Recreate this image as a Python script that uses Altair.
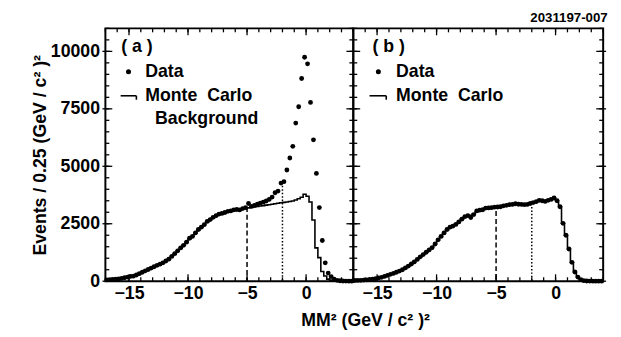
import altair as alt
import pandas as pd

# bin centres of MM^2 (0.25 GeV^2/c^4 bins)
bins = [
    -16.875, -16.625, -16.375, -16.125, -15.875, -15.625, -15.375, -15.125,
    -14.875, -14.625, -14.375, -14.125, -13.875, -13.625, -13.375, -13.125,
    -12.875, -12.625, -12.375, -12.125, -11.875, -11.625, -11.375, -11.125,
    -10.875, -10.625, -10.375, -10.125, -9.875, -9.625, -9.375, -9.125,
    -8.875, -8.625, -8.375, -8.125, -7.875, -7.625, -7.375, -7.125,
    -6.875, -6.625, -6.375, -6.125, -5.875, -5.625, -5.375, -5.125,
    -4.875, -4.625, -4.375, -4.125, -3.875, -3.625, -3.375, -3.125,
    -2.875, -2.625, -2.375, -2.125, -1.875, -1.625, -1.375, -1.125,
    -0.875, -0.625, -0.375, -0.125, 0.125, 0.375, 0.625, 0.875,
    1.125, 1.375, 1.625, 1.875, 2.125, 2.375, 2.625, 2.875,
    3.125, 3.375, 3.625, 3.875,
]

data_a = [
    60, 70, 80, 90, 100, 120, 150, 180,
    210, 220, 270, 330, 390, 450, 510, 570,
    630, 690, 740, 800, 880, 960, 1080, 1200,
    1320, 1450, 1560, 1700, 1870, 1950, 2100, 2250,
    2350, 2460, 2600, 2680, 2780, 2850, 2920, 2950,
    2990, 3040, 3060, 3100, 3120, 3100, 3160, 3200,
    3380, 3260, 3300, 3350, 3400, 3440, 3490, 3560,
    3660, 3850, 3920, 4270, 4330, 4840, 5360, 5870,
    6880, 7590, 8820, 9745, 9460, 7780, 6150, 4690,
    3205, 1770, 800, 355, 200, 90, 40, 20,
    10, 5, 0, 0,
]

mc_a = [
    50, 60, 70, 85, 100, 120, 145, 175,
    205, 240, 280, 330, 385, 440, 500, 560,
    620, 680, 745, 810, 890, 980, 1080, 1200,
    1320, 1440, 1570, 1700, 1840, 1960, 2090, 2220,
    2340, 2460, 2570, 2670, 2760, 2840, 2900, 2950,
    2990, 3030, 3060, 3090, 3110, 3130, 3150, 3170,
    3190, 3210, 3230, 3250, 3270, 3290, 3310, 3330,
    3350, 3370, 3390, 3410, 3430, 3450, 3470, 3490,
    3530, 3590, 3650, 3780, 3700, 3450, 2660, 1450,
    1025, 420, 230, 90, 40, 15, 5, 0,
    0, 0, 0, 0,
]

data_b = [
    30, 35, 40, 50, 60, 75, 90, 110,
    140, 170, 210, 250, 300, 340, 390, 440,
    500, 580, 660, 750, 840, 950, 1060, 1160,
    1260, 1360, 1460, 1620, 1800, 1950, 2100, 2250,
    2350, 2400, 2470, 2580, 2700, 2810, 2850, 2770,
    2900, 3060, 3090, 3110, 3180, 3190, 3200, 3220,
    3230, 3240, 3280, 3300, 3330, 3340, 3370, 3350,
    3340, 3330, 3340, 3380, 3420, 3460, 3520, 3500,
    3470, 3520, 3560, 3620, 3500, 3240, 2520, 2000,
    1400, 820, 400, 180, 70, 25, 10, 5,
    0, 0, 0, 0,
]

mc_b = [
    30, 35, 40, 50, 60, 75, 90, 110,
    140, 170, 205, 245, 290, 335, 385, 440,
    500, 575, 655, 745, 840, 945, 1050, 1160,
    1265, 1370, 1480, 1620, 1780, 1930, 2080, 2220,
    2330, 2420, 2500, 2600, 2700, 2790, 2850, 2870,
    2930, 3030, 3080, 3120, 3170, 3190, 3200, 3220,
    3230, 3250, 3270, 3290, 3320, 3330, 3350, 3350,
    3340, 3340, 3350, 3380, 3420, 3460, 3500, 3500,
    3490, 3520, 3560, 3610, 3500, 3240, 2520, 2000,
    1400, 820, 400, 180, 70, 25, 10, 5,
    0, 0, 0, 0,
]

# signal-region cut lines (dashed at -5, dotted at -2) and their heights
cut_dashed_x = [-5]
cut_dotted_x = [-2]
cut_dashed_top_a = [3230]
cut_dotted_top_a = [4300]
cut_dashed_top_b = [3050]
cut_dotted_top_b = [3230]

x_major = [-15, -10, -5, 0]
x_minor = [-17, -16, -15, -14, -13, -12, -11, -10, -9, -8, -7, -6, -5, -4,
           -3, -2, -1, 0, 1, 2, 3, 4]
y_major = [0, 2500, 5000, 7500, 10000]
y_minor = [0, 500, 1000, 1500, 2000, 2500, 3000, 3500, 4000, 4500, 5000,
           5500, 6000, 6500, 7000, 7500, 8000, 8500, 9000, 9500, 10000,
           10500, 11000]

y_title = "Events / 0.25 (GeV / c² )²"
x_title = "MM² (GeV / c² )²"
fig_id = "2031197-007"

FONT = "Liberation Sans"
FS = 18
H = 257
W_A = 252
W_B = 254
MAJ = 7     # px, inward major tick
MIN = 4     # px, inward minor tick
OUT = 3     # px, outward part of major ticks on outer frame
TICK_COLOR = "black"

xs = alt.Scale(domain=[-17, 4], nice=False, zero=False)
ys = alt.Scale(domain=[0, 11000], nice=False, zero=False)


def make_panel(width, data_vals, mc_vals, dash_top, dot_top, xaxis, yaxis,
               legend_layers, out_left, out_right):
    df = pd.DataFrame({"mm2": bins, "data": data_vals, "mc": mc_vals})
    mc_line = alt.Chart(df).mark_line(
        interpolate="step", color="black", strokeWidth=1.6
    ).encode(
        x=alt.X("mm2:Q", scale=xs, axis=xaxis),
        y=alt.Y("mc:Q", scale=ys, axis=yaxis),
    )
    pts = alt.Chart(df).mark_circle(size=24, color="black", opacity=1).encode(
        x=alt.X("mm2:Q", scale=xs, axis=xaxis),
        y=alt.Y("data:Q", scale=ys, axis=yaxis),
    )
    dashed = alt.Chart(pd.DataFrame({"x": cut_dashed_x, "top": dash_top})).mark_rule(
        color="black", strokeWidth=1.5, strokeDash=[5, 3]
    ).encode(
        x=alt.X("x:Q", scale=xs, axis=xaxis),
        y=alt.Y("top:Q", scale=ys, axis=yaxis),
        y2=alt.Y2(datum=0),
    )
    dotted = alt.Chart(pd.DataFrame({"x": cut_dotted_x, "top": dot_top})).mark_rule(
        color="black", strokeWidth=1.5, strokeDash=[1.5, 2]
    ).encode(
        x=alt.X("x:Q", scale=xs, axis=xaxis),
        y=alt.Y("top:Q", scale=ys, axis=yaxis),
        y2=alt.Y2(datum=0),
    )

    def yt(vals, a, b):
        return alt.Chart(pd.DataFrame({"yv": vals})).mark_rule(
            color=TICK_COLOR, strokeWidth=1.3
        ).encode(y=alt.Y("yv:Q", scale=ys, axis=yaxis),
                 x=alt.value(a), x2=alt.value(b))

    def xt(vals, a, b):
        return alt.Chart(pd.DataFrame({"xv": vals})).mark_rule(
            color=TICK_COLOR, strokeWidth=1.3
        ).encode(x=alt.X("xv:Q", scale=xs, axis=xaxis),
                 y=alt.value(a), y2=alt.value(b))

    ticks = [
        yt(y_major, -out_left, MAJ),
        yt(y_minor, 0, MIN),
        yt(y_major, width + out_right, width - MAJ),
        yt(y_minor, width, width - MIN),
        xt(x_major, H, H - MAJ),
        xt(x_minor, H, H - MIN),
        xt(x_major, 0, MAJ),
        xt(x_minor, 0, MIN),
    ]
    return alt.layer(
        dashed, dotted, mc_line, pts, *legend_layers, *ticks
    ).properties(width=width, height=H)


one = pd.DataFrame({"k": [0]})


def txt(label, x, y):
    return alt.Chart(one).mark_text(
        text=label, align="left", baseline="middle", font=FONT,
        fontSize=FS, fontWeight="bold", color="black"
    ).encode(x=alt.value(x), y=alt.value(y))


def dot(x, y):
    return alt.Chart(one).mark_circle(size=26, color="black", opacity=1).encode(
        x=alt.value(x), y=alt.value(y))


def step_symbol(x0, x1, y):
    h = alt.Chart(one).mark_rule(color="black", strokeWidth=1.6).encode(
        x=alt.value(x0), x2=alt.value(x1), y=alt.value(y))
    v = alt.Chart(one).mark_rule(color="black", strokeWidth=1.6).encode(
        x=alt.value(x1), y=alt.value(y), y2=alt.value(y + 4))
    return [h, v]


MC_LABEL = "Monte\u00a0 Carlo"

leg_a = [
    txt("( a )", 16, 19),
    dot(23.5, 44), txt("Data", 40.5, 44),
    *step_symbol(15.5, 31.5, 68.5), txt(MC_LABEL, 40.5, 69),
    txt("Background", 50.5, 92),
]
leg_b = [
    txt("( b )", 19.5, 19),
    dot(25.5, 44), txt("Data", 43.5, 44),
    *step_symbol(16.5, 33.5, 68.5), txt(MC_LABEL, 43.5, 69),
]

common = dict(ticks=False, domain=False, grid=False, labelFont=FONT,
              labelFontSize=FS, labelFontWeight="bold", labelColor="black",
              titleFont=FONT, titleFontSize=FS, titleFontWeight="bold",
              titleColor="black")
xa = alt.Axis(values=x_major, format="d", labelPadding=4, title=None, **common)
xb = alt.Axis(values=x_major, format="d", labelPadding=4, title=x_title,
              titleX=12, titleY=31, titleBaseline="top", **common)
ya = alt.Axis(values=y_major, format="d", labelPadding=6, title=y_title,
              titleX=-57, titleY=128.5, **common)

panel_a = make_panel(W_A, data_a, mc_a, cut_dashed_top_a, cut_dotted_top_a,
                     xa, ya, leg_a, OUT, 0)
panel_b = make_panel(W_B, data_b, mc_b, cut_dashed_top_b, cut_dotted_top_b,
                     xb, None, leg_b, 0, OUT)

chart = alt.hconcat(panel_a, panel_b, spacing=0, bounds="flush").properties(
    title=alt.TitleParams(text=fig_id, anchor="end", orient="top",
                          fontSize=13.5, font=FONT, fontWeight="bold",
                          color="black", offset=2),
    padding={"left": 22, "top": 0, "right": 5, "bottom": 5},
    background="white",
).configure_view(
    stroke="black", strokeWidth=2
)

chart.save("out.html", embed_options={"renderer": "svg", "actions": False})
